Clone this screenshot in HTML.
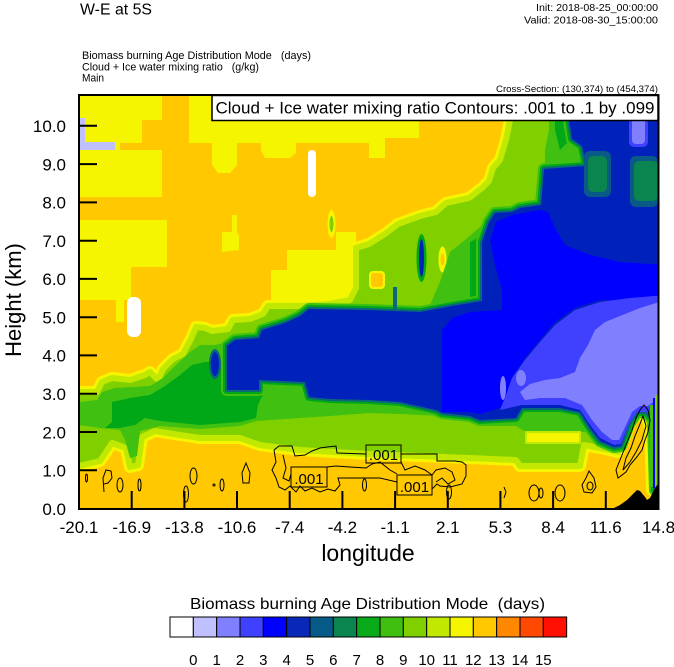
<!DOCTYPE html>
<html><head><meta charset="utf-8"><style>
html,body{margin:0;padding:0;background:#fff;}
svg{display:block;}
text{font-family:"Liberation Sans",Arial,sans-serif;fill:#000;}
</style></head><body>
<svg width="674" height="667" viewBox="0 0 674 667" xmlns="http://www.w3.org/2000/svg">
<defs>
<clipPath id="pc"><rect x="79" y="95" width="579.5" height="414"/></clipPath>
<polygon id="B" points="70,392 79,392 97,392 102,382 112,378 130,380 145,375 150,372 158,380 163,369 173,359 183,354 191,339 196,327 205,328 212,331 228,329 233,320 250,319 263,314 268,306 300,306 330,304 350,300 356,288 356,248 369,244 385,234 398,224 420,216 436,212 446,203 469,198 482,188 489,181 493,168 500,160 506,140 510,120 512,88 666,88 666,490 652,490 650,425 645,414 638,413 630,422 624,440 618,452 600,448 584,445 580,466 520,466 516,460 470,458 369,454 300,450 260,445 240,438 200,438 180,435 155,431 142,437 138,465 130,467 126,448 112,443 100,461 79,466 70,466"/>
<polygon id="D" points="227,346 235,340 259,338 262,330 285,323 300,316 309,309 369,310 395,311 420,312 452,306 482,301 482,242 489,222 495,213 512,212 520,208 541,205 544,169 586,166 582,146 572,139 569,120 569,88 666,88 666,490 655,490 653,420 646,412 637,412 629,424 621,446 614,447 600,441 590,428 580,412 560,408 522,408 516,418 480,420 470,416 442,413 436,410 400,402 369,400 330,399 309,397 305,382 259,380 259,390 227,390"/>
</defs>
<rect width="674" height="667" fill="#fff"/>
<g clip-path="url(#pc)">
<rect x="79" y="95" width="580" height="414" fill="#ffc800"/>
<polygon fill="#f5f500" points="79,95 162,95 162,120 142,120 142,143 120,143 120,150 162,150 162,197 79,197"/>
<polygon fill="#f5f500" points="189,95 212,95 212,120 419,120 419,138 385,138 385,158 369,158 369,143 296,143 296,153 290,158 265,158 261,150 261,143 237,143 237,165 230,173 218,173 212,165 212,143 189,143"/>
<polygon fill="#f5f500" points="79,220 167,220 167,267 131,267 131,300 79,300"/>
<polygon fill="#f5f500" points="116,298 124,298 124,322 116,322"/>
<polygon fill="#f5f500" points="222,232 232,232 232,215 237,215 237,232 239,235 239,250 222,252"/>
<polygon fill="#f5f500" points="271,300 271,270 287,270 287,250 336,250 336,232 356,232 356,300"/>
<rect x="79" y="118" width="6" height="32" fill="#c0c0ff"/>
<rect x="79" y="142" width="36" height="8" fill="#c0c0ff"/>
<rect x="308" y="150" width="8" height="47" rx="4" fill="#fff"/>
<rect x="127" y="297" width="14" height="40" rx="6" fill="#fff"/>
<ellipse cx="331.5" cy="224" rx="4" ry="14" fill="#f5f500"/>
<ellipse cx="331.5" cy="224" rx="2" ry="8" fill="#80d000"/>
<use href="#B" fill="#f5f500" stroke="#f5f500" stroke-width="12" stroke-linejoin="round"/>
<use href="#B" fill="#80d000" stroke="#c0e800" stroke-width="6" stroke-linejoin="round"/>
<rect x="369" y="271" width="16" height="18" rx="4" fill="#f5f500"/>
<rect x="371" y="273" width="12" height="14" rx="3" fill="#ffc800"/>
<ellipse cx="442.5" cy="259.5" rx="4" ry="13" fill="#f5f500"/>
<ellipse cx="442.5" cy="259.5" rx="2" ry="6" fill="#ffc800"/>
<ellipse cx="461" cy="258" rx="5.5" ry="11" fill="#f5f500"/>
<ellipse cx="461" cy="258" rx="3" ry="6" fill="#ffc800"/>
<polygon fill="#40c010" points="79,402 97,400 102,392 115,388 150,386 163,378 175,366 190,352 200,345 215,345 227,342 260,335 275,325 300,318 309,312 369,312 452,310 452,400 442,416 400,414 369,413 330,416 300,418 256,421 240,426 200,429 160,426 140,431 137,456 130,458 125,440 120,430 100,428 79,425"/>
<polygon fill="#40c010" points="430,305 440,282 450,252 470,236 482,225 482,305"/>
<polygon fill="#40c010" points="480,420 522,410 580,410 586,432 526,432 516,426 480,426"/>
<polygon fill="#40c010" points="549,95 569,95 572,138 582,145 586,165 545,168 545,150 549,130"/>
<rect x="526" y="432" width="54" height="11" fill="#f5f500" stroke="#c0e800" stroke-width="2"/>
<polygon fill="#00a818" points="105,428 112,422 112,402 130,398 150,395 165,386 180,375 192,365 205,362 215,362 227,365 240,362 259,362 265,390 258,405 256,418 240,422 200,425 160,421 145,418 135,425 120,428"/>
<polygon fill="#00a818" points="470,242 482,236 482,305 470,305"/>
<polygon fill="#00a818" points="555,95 569,95 572,138 560,150 555,130"/>
<use href="#D" fill="#40c010" stroke="#40c010" stroke-width="12" stroke-linejoin="round"/>
<use href="#D" fill="#00a818" stroke="#00a818" stroke-width="8" stroke-linejoin="round"/>
<use href="#D" fill="#0a6878" stroke="#0a6878" stroke-width="4" stroke-linejoin="round"/>
<use href="#D" fill="#0022bb"/>
<ellipse cx="215" cy="364" rx="6" ry="15" fill="#0a6878"/>
<ellipse cx="215" cy="364" rx="4" ry="12" fill="#0022bb"/>
<ellipse cx="421.5" cy="258" rx="5" ry="24" fill="#00a818"/>
<ellipse cx="421.5" cy="258" rx="2.5" ry="19" fill="#0022bb"/>
<rect x="393" y="287" width="4" height="23" fill="#0a6878"/>
<rect x="584" y="151" width="27" height="46" rx="6" fill="#0a5a88"/>
<rect x="588" y="156" width="19" height="36" rx="5" fill="#0a8550"/>
<rect x="630" y="156" width="28" height="51" rx="6" fill="#0a5a88"/>
<rect x="634" y="161" width="24" height="40" rx="5" fill="#0a8550"/>
<polygon fill="#0000ff" points="442,412 442,330 452,318 470,312 502,310 502,290 495,265 490,240 496,222 512,215 540,210 548,212 555,228 565,245 590,255 620,262 666,265 666,300 630,300 600,300 575,308 555,322 540,340 525,358 512,378 506,398 500,408 480,414 470,412"/>
<polygon fill="#4040ff" points="500,410 506,395 512,378 525,360 540,342 555,325 575,310 600,302 630,298 666,295 666,490 655,490 653,420 646,412 637,412 629,424 621,444 614,445 600,438 590,425 580,410 560,405 522,405"/>
<polygon fill="#8080ff" points="520,392 530,384 545,380 560,378 575,372 580,358 588,345 595,330 605,322 620,316 640,308 666,300 666,395 656,400 648,406 640,406 632,412 626,425 619,440 612,440 602,432 592,420 582,405 565,398 540,398 525,400"/>
<ellipse cx="521" cy="378" rx="5" ry="8" fill="#8080ff"/>
<ellipse cx="503" cy="388" rx="3" ry="12" fill="#8080ff"/>
<rect x="629" y="118" width="19" height="29" rx="5" fill="#4040ff"/>
<rect x="632" y="118" width="13" height="26" rx="4" fill="#8080ff"/>
<rect x="650" y="405" width="3" height="82" fill="#40c010"/>
<rect x="653" y="398" width="2" height="90" fill="#0000ff"/>
<rect x="655" y="395" width="4" height="92" fill="#80d000"/>
<polygon fill="#000" points="612,509 620,505 627,500 632,495 637,490 640,491 645,497 647,500 650,498 653,492 657,485 660,483 660,510 612,510"/>
<g fill="none" stroke="#000" stroke-width="1">
<ellipse cx="86.5" cy="478" rx="1" ry="4"/>
<path d="M104,492 L103,478 L106,470 L111,471 L112,478 L108,483 L104,484"/>
<ellipse cx="120" cy="485" rx="3" ry="7"/>
<ellipse cx="139.5" cy="485" rx="1.5" ry="6"/>
<ellipse cx="186" cy="494" rx="2.5" ry="8"/>
<ellipse cx="193.5" cy="476" rx="3.5" ry="8"/>
<circle cx="214" cy="485" r="1"/>
<ellipse cx="222" cy="485" rx="2" ry="6"/>
<path d="M246,463 L250,473 L249,483 L243,483 L242,473 Z"/>
<ellipse cx="364.5" cy="485" rx="2" ry="6"/>
<ellipse cx="449" cy="492" rx="2.5" ry="7"/>
<path d="M504,487 L506,492 L504,498"/>
<ellipse cx="534" cy="493" rx="5" ry="8"/>
<ellipse cx="541" cy="493" rx="2" ry="5"/>
<ellipse cx="560" cy="493" rx="5" ry="8"/>
<path d="M589,471 L594,478 L596,487 L592,493 L584,492 L582,485 L586,478 Z"/>
<ellipse cx="590" cy="486" rx="3" ry="4"/>
<path d="M274,450 L279,446 L292,446 L295,456 L305,455 L312,451 L320,448 L327,447 L336,446 L337,453 L366,454"/>
<path d="M274,450 L276,462 L272,470 L276,478 L279,487 L285,490 L290,486 L296,492 L300,486 L305,491 L312,488 L320,492 L328,489 L335,491 L340,485 L338,478 L366,478 L380,478 L397,482"/>
<path d="M283,455 L286,468 L283,478 L289,481 L291,474"/>
<path d="M327,467 L336,466 L350,467 L366,468 L372,464 L380,462 L390,470 L397,474"/>
<path d="M401,454 L437,454 L437,461 L455,461 L462,462 L466,465 L466,476 L462,484 L450,487 L440,486 L437,484 L432,489"/>
<path d="M401,462 L405,470 L415,466 L425,470 L432,475 L436,470 L445,468 L452,472 L455,480 L448,484 L442,478 L436,482"/>
<path d="M618,478 L616,470 L620,460 L624,450 L628,440 L632,430 L636,418 L640,410 L644,405 L648,410 L650,420 L648,432 L645,440 L642,450 L636,458 L630,465 L626,472 Z"/>
<path d="M623,470 L626,458 L631,448 L635,436 L640,424 L643,416 L646,426 L642,440 L636,452 L630,462 Z"/>
<rect x="291" y="467" width="36" height="20"/>
<rect x="366" y="445" width="35" height="18"/>
<rect x="397" y="475" width="35" height="20"/>
</g>
<text x="309" y="484" font-size="15" text-anchor="middle">.001</text>
<text x="383.5" y="460" font-size="15" text-anchor="middle">.001</text>
<text x="414.5" y="492" font-size="15" text-anchor="middle">.001</text>
</g>
<g stroke="#000" stroke-width="2">
<line x1="131.7" y1="509" x2="131.7" y2="491"/><line x1="184.4" y1="509" x2="184.4" y2="491"/>
<line x1="237" y1="509" x2="237" y2="491"/><line x1="289.7" y1="509" x2="289.7" y2="491"/>
<line x1="342.4" y1="509" x2="342.4" y2="491"/><line x1="395.1" y1="509" x2="395.1" y2="491"/>
<line x1="447.8" y1="509" x2="447.8" y2="491"/><line x1="500.4" y1="509" x2="500.4" y2="491"/>
<line x1="553.1" y1="509" x2="553.1" y2="491"/><line x1="605.8" y1="509" x2="605.8" y2="491"/>
<line x1="79" y1="470.2" x2="97" y2="470.2"/><line x1="79" y1="432" x2="97" y2="432"/>
<line x1="79" y1="393.7" x2="97" y2="393.7"/><line x1="79" y1="355.4" x2="97" y2="355.4"/>
<line x1="79" y1="317.2" x2="97" y2="317.2"/><line x1="79" y1="278.9" x2="97" y2="278.9"/>
<line x1="79" y1="240.7" x2="97" y2="240.7"/><line x1="79" y1="202.4" x2="97" y2="202.4"/>
<line x1="79" y1="164.1" x2="97" y2="164.1"/><line x1="79" y1="125.8" x2="97" y2="125.8"/>
</g>
<rect x="79" y="95" width="579.5" height="414" fill="none" stroke="#000" stroke-width="2"/>
<rect x="212" y="95.5" width="446" height="25" fill="#fff" stroke="#000" stroke-width="1.5"/>
<text x="215.5" y="113.5" font-size="17" textLength="439" lengthAdjust="spacingAndGlyphs">Cloud + Ice water mixing ratio Contours: .001 to .1 by .099</text>
<text x="80" y="14.5" font-size="15.5" textLength="72" lengthAdjust="spacingAndGlyphs">W-E at 5S</text>
<text x="658" y="11" font-size="10.5" text-anchor="end" textLength="122" lengthAdjust="spacingAndGlyphs">Init: 2018-08-25_00:00:00</text>
<text x="658" y="23.5" font-size="10.5" text-anchor="end" textLength="134" lengthAdjust="spacingAndGlyphs">Valid: 2018-08-30_15:00:00</text>
<text x="82" y="59" font-size="11" textLength="229" lengthAdjust="spacingAndGlyphs" xml:space="preserve">Biomass burning Age Distribution Mode   (days)</text>
<text x="82" y="70.3" font-size="11" textLength="177" lengthAdjust="spacingAndGlyphs" xml:space="preserve">Cloud + Ice water mixing ratio   (g/kg)</text>
<text x="82" y="81.5" font-size="11" textLength="22" lengthAdjust="spacingAndGlyphs">Main</text>
<text x="658" y="92" font-size="9" text-anchor="end" textLength="162" lengthAdjust="spacingAndGlyphs">Cross-Section: (130,374) to (454,374)</text>
<g font-size="17" text-anchor="end">
<text x="66" y="515">0.0</text><text x="66" y="476.5">1.0</text><text x="66" y="438.3">2.0</text>
<text x="66" y="400">3.0</text><text x="66" y="361.7">4.0</text><text x="66" y="323.5">5.0</text>
<text x="66" y="285.2">6.0</text><text x="66" y="247">7.0</text><text x="66" y="208.7">8.0</text>
<text x="66" y="170.4">9.0</text><text x="66" y="132.1">10.0</text>
</g>
<g font-size="17" text-anchor="middle">
<text x="79" y="533">-20.1</text><text x="131.7" y="533">-16.9</text><text x="184.4" y="533">-13.8</text>
<text x="237" y="533">-10.6</text><text x="289.7" y="533">-7.4</text><text x="342.4" y="533">-4.2</text>
<text x="395.1" y="533">-1.1</text><text x="447.8" y="533">2.1</text><text x="500.4" y="533">5.3</text>
<text x="553.1" y="533">8.4</text><text x="605.8" y="533">11.6</text><text x="658.5" y="533">14.8</text>
</g>
<text x="368" y="561" font-size="23" text-anchor="middle">longitude</text>
<text transform="translate(21,300) rotate(-90)" font-size="22" text-anchor="middle">Height (km)</text>
<text x="190" y="609" font-size="16" textLength="355" lengthAdjust="spacingAndGlyphs" xml:space="preserve">Biomass burning Age Distribution Mode  (days)</text>
<g stroke="#000" stroke-width="1">
<rect x="170" y="617" width="23.33" height="20" fill="#ffffff"/>
<rect x="193.33" y="617" width="23.33" height="20" fill="#c0c0ff"/>
<rect x="216.67" y="617" width="23.33" height="20" fill="#8080ff"/>
<rect x="240" y="617" width="23.33" height="20" fill="#4040ff"/>
<rect x="263.33" y="617" width="23.33" height="20" fill="#0000ff"/>
<rect x="286.67" y="617" width="23.33" height="20" fill="#0a28b8"/>
<rect x="310" y="617" width="23.33" height="20" fill="#055a88"/>
<rect x="333.33" y="617" width="23.33" height="20" fill="#0a8550"/>
<rect x="356.67" y="617" width="23.33" height="20" fill="#08aa1a"/>
<rect x="380" y="617" width="23.33" height="20" fill="#40bf10"/>
<rect x="403.33" y="617" width="23.33" height="20" fill="#80d000"/>
<rect x="426.67" y="617" width="23.33" height="20" fill="#c0e800"/>
<rect x="450" y="617" width="23.33" height="20" fill="#f5f500"/>
<rect x="473.33" y="617" width="23.33" height="20" fill="#ffc800"/>
<rect x="496.67" y="617" width="23.33" height="20" fill="#ff8800"/>
<rect x="520" y="617" width="23.33" height="20" fill="#ff4800"/>
<rect x="543.33" y="617" width="23.33" height="20" fill="#ff1000"/>
</g>
<g font-size="15" text-anchor="middle">
<text x="193.3" y="665">0</text><text x="216.7" y="665">1</text><text x="240" y="665">2</text>
<text x="263.3" y="665">3</text><text x="286.7" y="665">4</text><text x="310" y="665">5</text>
<text x="333.3" y="665">6</text><text x="356.7" y="665">7</text><text x="380" y="665">8</text>
<text x="403.3" y="665">9</text><text x="426.7" y="665">10</text><text x="450" y="665">11</text>
<text x="473.3" y="665">12</text><text x="496.7" y="665">13</text><text x="520" y="665">14</text>
<text x="543.3" y="665">15</text>
</g>
</svg>
</body></html>
